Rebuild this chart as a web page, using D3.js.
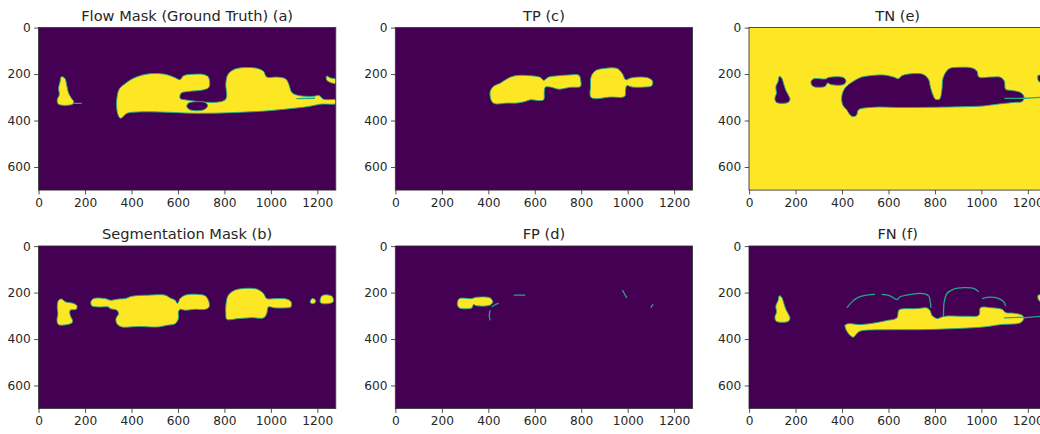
<!DOCTYPE html>
<html>
<script src='https://d3js.org/d3.v7.min.js'></script>
<style>
 body {margin:0; background:#fff;}
 text {font-family:"DejaVu Sans", sans-serif; fill:#262626;}
</style>
<body onload='init()'>
<svg width=1040 height=434></svg>
<script>
// image grid 1280 x 700 (pixel coords)
var xTicks = [0, 200, 400, 600, 800, 1000, 1200];
var yTicks = [0, 200, 400, 600];
var titles = ["Flow Mask (Ground Truth) (a)", "TP (c)", "TN (e)", "Segmentation Mask (b)", "FP (d)", "FN (f)"];

// (a) ground truth flow mask
var flowMask = [
 [[97,212],[112,217],[122,253],[129,282],[141,304],[151,318],[146,330],[86,330],[80,311],[89,289],[86,260],[93,231]],
 [[337,304],[347,265],[373,241],[402,221],[437,207],[488,198],[545,201],[581,213],[609,224],[624,207],[667,201],[710,202],[731,213],[734,256],[710,268],[645,275],[614,282],[609,304],[631,311],[803,311],[806,239],[815,202],[839,181],[882,172],[939,175],[968,188],[982,213],[1025,213],[1064,221],[1078,246],[1090,279],[1119,292],[1183,296],[1207,292],[1226,308],[1285,312],[1285,326],[1212,330],[1162,340],[1090,348],[975,359],[832,366],[688,369],[545,364],[430,363],[380,369],[361,386],[351,390],[341,373],[336,343]],
 [[1240,208],[1258,217],[1285,222],[1285,240],[1256,236],[1240,225]]
];
var flowHoles = [
 [[645,325],[717,322],[728,337],[710,354],[652,354],[638,340]]
];
var flowEdges = [
 [[150,326],[186,326]],
 [[1110,306],[1190,304]]
];

// (b) segmentation mask
var segMask = [
 [[86,233],[100,228],[115,240],[151,247],[165,257],[162,272],[136,276],[136,298],[146,320],[143,331],[86,338],[79,320],[83,291],[80,262]],
 [[225,240],[237,226],[287,226],[308,233],[344,228],[373,226],[394,218],[416,214],[473,211],[545,211],[566,223],[588,233],[598,247],[609,226],[631,211],[688,208],[717,214],[731,233],[734,262],[717,272],[674,272],[631,276],[609,272],[602,283],[602,312],[588,334],[552,341],[516,348],[480,348],[430,346],[394,348],[358,348],[337,334],[333,312],[344,291],[337,276],[308,269],[301,262],[258,262],[229,257]],
 [[807,247],[817,211],[846,189],[889,182],[939,185],[968,204],[982,226],[1018,226],[1068,228],[1087,240],[1086,262],[1061,266],[1018,266],[989,262],[982,291],[968,309],[918,308],[860,312],[810,315],[806,291]],
 [[1170,236],[1178,226],[1190,230],[1192,242],[1180,248],[1170,244]],
 [[1212,232],[1220,214],[1245,210],[1265,218],[1268,240],[1250,247],[1215,245]]
];

// (c) true positives
var tpMask = [
 [[408,275],[422,253],[451,239],[487,217],[516,207],[581,207],[624,214],[638,227],[660,213],[703,207],[746,204],[790,205],[797,224],[797,253],[754,257],[703,265],[667,256],[646,256],[641,275],[638,311],[617,314],[581,311],[559,318],[523,325],[480,325],[429,328],[415,318],[408,296]],
 [[843,210],[862,185],[898,176],[955,176],[977,198],[991,224],[1013,217],[1056,213],[1092,218],[1107,231],[1104,250],[1071,256],[1020,256],[996,250],[991,267],[987,296],[927,299],[843,301],[840,253]]
];

// (d) false positives
var fpMask = [
 [[267,243],[275,226],[329,226],[343,221],[408,223],[419,240],[408,254],[350,257],[336,252],[329,266],[275,266],[267,254]]
];
var fpEdges = [
 [[415,262],[430,252],[445,247]],
 [[408,276],[404,298],[408,320]],
 [[509,211],[559,211]],
 [[977,189],[986,205],[996,223]],
 [[1100,266],[1104,256],[1111,252]]
];

// (e) true negatives (dark shapes on bright ground)
var tnMask = [
 [[130,210],[140,217],[150,246],[158,270],[168,289],[176,308],[168,322],[118,322],[111,304],[118,282],[115,256],[125,231]],
 [[266,236],[276,221],[331,221],[341,215],[406,215],[417,230],[409,244],[355,246],[337,239],[327,253],[276,253]],
 [[399,296],[413,260],[449,231],[485,213],[521,207],[578,204],[622,213],[643,220],[658,207],[708,198],[751,202],[773,224],[780,253],[791,289],[802,308],[820,308],[830,268],[835,217],[859,178],[902,171],[960,174],[981,188],[989,213],[1039,213],[1082,214],[1099,231],[1104,265],[1125,270],[1168,279],[1183,296],[1176,318],[1140,322],[1082,328],[1010,337],[938,340],[794,343],[650,344],[535,343],[471,354],[463,376],[449,383],[435,376],[420,354],[403,333]],
 [[1245,205],[1265,210],[1285,212],[1285,245],[1262,240],[1245,228]]
];
var tnEdges = [
 [[1099,305],[1190,304],[1285,298]]
];

// (f) false negatives
var fnMask = [
 [[130,214],[140,220],[150,248],[158,272],[168,291],[176,310],[168,324],[118,324],[111,306],[118,284],[115,258],[125,234]],
 [[413,341],[427,334],[478,338],[550,329],[594,320],[636,309],[643,279],[650,272],[722,269],[766,266],[780,279],[787,298],[809,312],[830,305],[852,301],[938,302],[989,298],[996,265],[1039,265],[1089,272],[1104,286],[1140,289],[1176,298],[1183,312],[1168,330],[1082,338],[1010,348],[866,356],[722,360],[594,360],[478,366],[463,377],[449,392],[435,385],[423,370],[416,356]],
 [[1245,210],[1265,214],[1285,216],[1285,248],[1262,244],[1245,230]]
];
var fnEdges = [
 [[421,266],[443,240],[470,221],[506,211],[542,208]],
 [[571,208],[607,214],[636,230],[650,218],[694,208],[744,204],[773,214],[780,240],[783,266]],
 [[837,301],[840,240],[852,204],[881,185],[924,179],[967,182],[989,197]],
 [[1003,226],[1039,220],[1075,226],[1097,240],[1104,257]],
 [[1097,309],[1176,306]],
 [[1176,309],[1285,300]]
];

var purple = "#440154", yellow = "#fde725", teal = "#22a884";

function init() {
 var svg = d3.select("svg");
 var colX = [38.5, 395.3, 749], rowY = [27.5, 246];
 var pw = 297.3, ph = 162.6;

 var panels = [
  {shapes: flowMask, holes: flowHoles, edges: flowEdges, bg: purple, fg: yellow},
  {shapes: tpMask, holes: [], edges: [], bg: purple, fg: yellow},
  {shapes: tnMask, holes: [], edges: tnEdges, bg: yellow, fg: purple},
  {shapes: segMask, holes: [], edges: [], bg: purple, fg: yellow},
  {shapes: fpMask, holes: [], edges: fpEdges, bg: purple, fg: yellow},
  {shapes: fnMask, holes: [], edges: fnEdges, bg: purple, fg: yellow}
 ];

 panels.forEach(function (p, i) {
  var x0 = colX[i % 3], y0 = rowY[Math.floor(i / 3)];
  var x = d3.scaleLinear().domain([-0.5, 1279.5]).range([x0, x0 + pw]);
  var y = d3.scaleLinear().domain([-0.5, 699.5]).range([y0, y0 + ph]);
  var blob = d3.line().x(function (d) { return x(d[0]); }).y(function (d) { return y(d[1]); })
   .curve(d3.curveCatmullRomClosed.alpha(0.5));
  var edge = d3.line().x(function (d) { return x(d[0]); }).y(function (d) { return y(d[1]); })
   .curve(d3.curveCatmullRom.alpha(0.5));

  svg.append("clipPath").attr("id", "clip" + i)
   .append("rect").attr("x", x0).attr("y", y0).attr("width", pw).attr("height", ph);

  var g = svg.append("g").attr("clip-path", "url(#clip" + i + ")");
  g.append("rect").attr("x", x0).attr("y", y0).attr("width", pw).attr("height", ph).attr("fill", p.bg);
  g.selectAll(".blob").data(p.shapes).enter().append("path")
   .attr("d", blob).attr("fill", p.fg).attr("stroke", teal).attr("stroke-width", 0.9);
  g.selectAll(".hole").data(p.holes).enter().append("path")
   .attr("d", blob).attr("fill", p.bg).attr("stroke", teal).attr("stroke-width", 0.9);
  g.selectAll(".edge").data(p.edges).enter().append("path")
   .attr("d", edge).attr("fill", "none").attr("stroke", teal).attr("stroke-width", 1.3);

  var ax = svg.append("g").attr("transform", "translate(0," + (y0 + ph) + ")")
   .call(d3.axisBottom(x).tickValues(xTicks).tickFormat(d3.format("d"))
    .tickSize(4.3).tickPadding(3.5).tickSizeOuter(0));
  var ay = svg.append("g").attr("transform", "translate(" + x0 + ",0)")
   .call(d3.axisLeft(y).tickValues(yTicks).tickFormat(d3.format("d"))
    .tickSize(4.3).tickPadding(3.5).tickSizeOuter(0));
  [ax, ay].forEach(function (a) {
   a.select(".domain").remove();
   a.selectAll("line").attr("stroke", "#262626").attr("stroke-width", 0.8);
   a.selectAll("text").attr("font-size", "12.2px").attr("font-family", "DejaVu Sans").attr("fill", "#262626");
  });

  svg.append("rect").attr("x", x0).attr("y", y0).attr("width", pw).attr("height", ph)
   .attr("fill", "none").attr("stroke", "#262626").attr("stroke-width", 0.8);

  svg.append("text").attr("x", x0 + pw / 2).attr("y", y0 - 7)
   .attr("text-anchor", "middle").attr("font-size", "14.6px").text(titles[i]);
 });
}
</script>
</body>
</html>
